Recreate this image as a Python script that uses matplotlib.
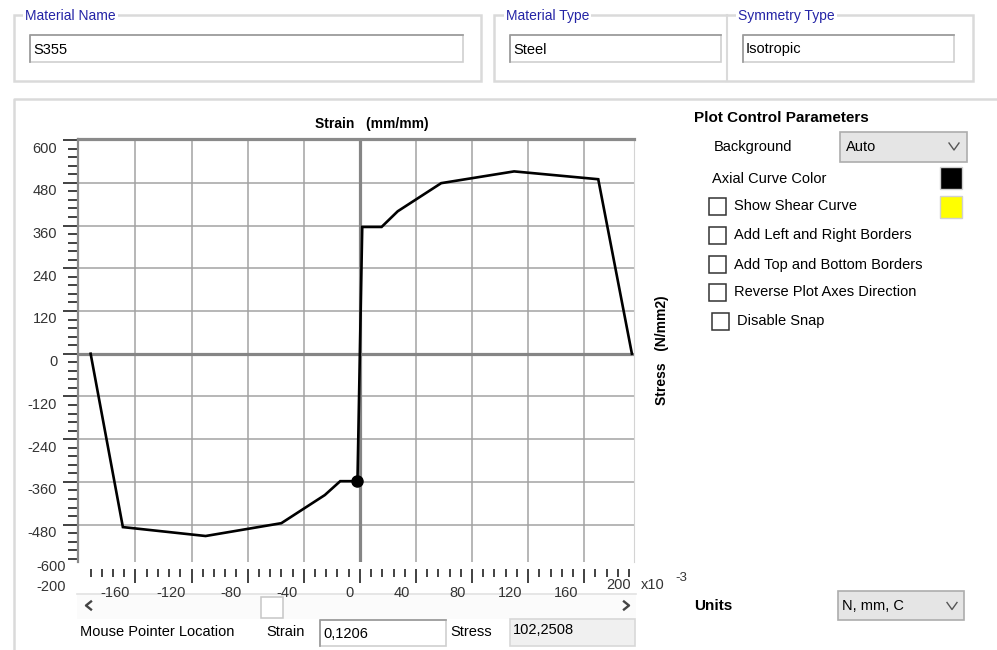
import matplotlib
matplotlib.use('Agg')
import matplotlib.pyplot as plt
from matplotlib.patches import Rectangle
from matplotlib.ticker import FixedLocator
from matplotlib.transforms import ScaledTranslation, blended_transform_factory

# stress-strain curve of S355 (strain in x10^-3 mm/mm, stress in N/mm2)
strain = [-192, -169, -110, -56, -25, -14, -1.7, 1.7, 15.5, 27, 58, 110, 170, 194]
stress = [0, -487, -512, -476, -397, -358, -358, 356, 356, 400, 479, 512, 490, 0]
point_strain = [-1.7]
point_stress = [-358]

x_major = [-160, -120, -80, -40, 0, 40, 80, 120, 160]
x_minor = [v for v in range(-192, 196, 8) if v % 40 != 0]
y_major = [600, 480, 360, 240, 120, 0, -120, -240, -360, -480]
y_minor = [v for v in range(-576, 601, 24) if v % 120 != 0]

plt.rcParams['font.family'] = ['Liberation Sans', 'DejaVu Sans']

W, H = 997, 650
fig = plt.figure(figsize=(W / 100, H / 100), dpi=100)
fig.patch.set_facecolor('white')

# full-size overlay axes in pixel coordinates for the dialog controls
ui = fig.add_axes([0, 0, 1, 1])
ui.set_xlim(0, W)
ui.set_ylim(H, 0)
ui.axis('off')
ui.set_zorder(0)

BLUE = '#2424a6'
TXT = 10.5


def box(x0, y0, x1, y1, fc='white', ec='#d8d8d8', lw=1.5, z=1):
    ui.add_patch(Rectangle((x0, y0), x1 - x0, y1 - y0, fc=fc, ec=ec, lw=lw, zorder=z))


def label(x, y, s, size=TXT, **kw):
    ui.text(x, y, s, fontsize=size, va='center', zorder=5, **kw)


def group_title(x, y, s):
    ui.text(x, y, s, fontsize=10, color=BLUE, va='center', zorder=5,
            bbox=dict(fc='white', ec='none', pad=1.5))


def textbox(x0, y0, x1, y1, s, fc='white'):
    box(x0, y0, x1, y1, fc=fc, ec='#cfcfcf', lw=1.2, z=2)
    ui.plot([x0, x0, x1], [y1, y0, y0], color='#9a9a9a', lw=1.2, zorder=3)
    label(x0 + 3, (y0 + y1) / 2 + 1, s)


def chevron(xc, yc, w=5, h=3.5, down=True, color='#555555', lw=1.0):
    if down:
        ui.plot([xc - w, xc, xc + w], [yc - h, yc + h, yc - h], color=color, lw=lw, zorder=6)


# top group boxes
box(14, 15, 481, 81, fc='none', ec='#dadada', lw=1.8)
group_title(25, 16, 'Material Name')
textbox(30, 35, 463, 62, 'S355')

box(494, 15, 973, 81, fc='none', ec='#dadada', lw=1.8)
ui.plot([727, 727], [15, 81], color='#dadada', lw=1.5)
group_title(506, 16, 'Material Type')
group_title(738, 16, 'Symmetry Type')
textbox(510, 35, 721, 62, 'Steel')
textbox(743, 35, 954, 62, 'Isotropic')

# large panel
ui.plot([14, 14, 997], [650, 99, 99], color='#dadada', lw=1.8)

# right hand controls
label(694, 118, 'Plot Control Parameters', size=11, fontweight='bold')
label(714, 147, 'Background')
box(840, 132, 967, 162, fc='#e5e5e5', ec='#adadad', lw=1.2, z=2)
label(846, 147, 'Auto')
chevron(954, 146.5)
label(712, 179, 'Axial Curve Color')
box(940, 167, 962, 189, fc='black', ec='#d0d0d0', lw=1, z=2)
box(940, 196, 962, 218, fc='#ffff00', ec='#d0d0d0', lw=1, z=2)

checks = [('Show Shear Curve', 709, 198),
          ('Add Left and Right Borders', 709, 227),
          ('Add Top and Bottom Borders', 709, 256),
          ('Reverse Plot Axes Direction', 709, 284),
          ('Disable Snap', 712, 313)]
for name, cx, cy in checks:
    box(cx, cy, cx + 17, cy + 17, fc='white', ec='#333333', lw=1.1, z=2)
    label(cx + 25, cy + 8.5, name)

label(694, 606, 'Units', size=11, fontweight='bold')
box(838, 591, 964, 620, fc='#e5e5e5', ec='#adadad', lw=1.2, z=2)
label(842, 605.5, 'N, mm, C')
chevron(952, 606)

# scroll bar under the plot
box(77, 594, 636, 619, fc='#fbfbfb', ec='none', z=1)
ui.plot([77, 636], [594, 594], color='#e2e2e2', lw=1.2, zorder=2)
box(261, 597, 283, 618, fc='white', ec='#c6c6c6', lw=1.1, z=3)
ui.plot([91, 86, 91], [601.5, 605.5, 609.5], color='#444444', lw=1.7, zorder=4)
ui.plot([624, 629, 624], [601.5, 605.5, 609.5], color='#444444', lw=1.7, zorder=4)

# mouse pointer location row
label(80, 632, 'Mouse Pointer Location')
label(266, 632, 'Strain')
textbox(320, 620, 446, 646, '0,1206')
label(450, 632, 'Stress')
box(510, 619, 635, 646, fc='#f0f0f0', ec='#d8d8d8', lw=1.2, z=2)
label(513, 630, '102,2508')

# the stress-strain plot
ax = fig.add_axes([78 / W, 1 - 562 / H, 556 / W, 423 / H])
ax.set_zorder(2)
ax.set_facecolor('white')
ax.set_xlim(-201, 195.5)
ax.set_ylim(-585, 603)

ax.xaxis.set_major_locator(FixedLocator(x_major))
ax.xaxis.set_minor_locator(FixedLocator(x_minor))
ax.yaxis.set_major_locator(FixedLocator(y_major))
ax.yaxis.set_minor_locator(FixedLocator(y_minor))
ax.set_xticklabels([str(v) for v in x_major])
ax.set_yticklabels([str(v) for v in y_major])

ax.grid(True, which='major', color='#a3a3a3', lw=1.1)
ax.set_axisbelow(True)
ax.axhline(0, color='#858585', lw=2.3, zorder=1)
ax.axvline(0, color='#858585', lw=2.3, zorder=1)

ax.spines['top'].set_color('#8a8a8a')
ax.spines['top'].set_linewidth(2.3)
ax.spines['left'].set_color('#8a8a8a')
ax.spines['left'].set_linewidth(1.6)
ax.spines['right'].set_color('#d4d4d4')
ax.spines['right'].set_linewidth(0.8)
ax.spines['bottom'].set_position(('outward', 5))
ax.spines['bottom'].set_color('none')

ax.tick_params(axis='both', which='both', direction='out', colors='#333333',
               labelsize=10.5, width=1.3)
ax.tick_params(axis='y', which='major', length=11, pad=4)
ax.tick_params(axis='y', which='minor', length=7)
ax.tick_params(axis='x', which='major', length=10, pad=2)
ax.tick_params(axis='x', which='minor', length=6)

dpi_tr = fig.dpi_scale_trans
for t in ax.get_yticklabels():
    t.set_transform(t.get_transform() + ScaledTranslation(0, -7 / 100, dpi_tr))
for t in ax.get_xticklabels():
    t.set_horizontalalignment('right')
    t.set_transform(t.get_transform() + ScaledTranslation(-6 / 100, 0, dpi_tr))

ax.plot(strain, stress, color='black', lw=1.9, solid_joinstyle='miter', zorder=3)
ax.plot(point_strain, point_stress, 'o', color='black', ms=8, zorder=4)

ax.set_title('Strain   (mm/mm)', fontsize=10, fontweight='bold', x=(372 - 78) / 556, pad=8)
ax.set_ylabel('Stress   (N/mm2)', fontsize=10, fontweight='bold')
ax.yaxis.set_label_position('right')
ax.yaxis.set_label_coords((655 - 78) / 556, (562 - 350) / 423)

# end labels of the axes and the strain multiplier
label(66, 567, '-600', ha='right', color='#333333')
label(66, 587, '-200', ha='right', color='#333333')
label(631, 585, '200', ha='right', color='#333333')
label(641, 585, 'x10', color='#333333')
label(675, 578, '-3', size=9.5, color='#333333')

fig.savefig('out.png', dpi=100, facecolor='white')
